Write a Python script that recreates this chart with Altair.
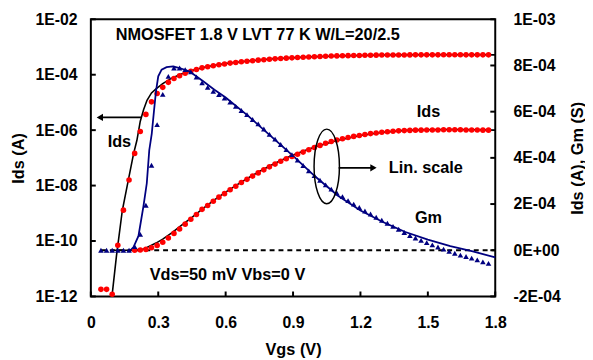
import altair as alt
import pandas as pd

# ---------------- data ----------------
vgs = [round(0.045 + 0.025 * k, 3) for k in range(70)]

ids = [1.8e-12, 1.8e-12, 1.2e-12, 7.0e-11, 1.3e-9, 1.6e-8, 1.45e-7, 9.0e-7, 3.7e-6, 1.05e-5,
       2.1e-5, 3.5e-5, 5.3e-5, 7.3e-5, 9.2e-5, 1.13e-4, 1.34e-4, 1.55e-4, 1.77e-4, 1.94e-4,
       2.12e-4, 2.30e-4, 2.45e-4, 2.62e-4, 2.77e-4, 2.93e-4, 3.07e-4, 3.21e-4, 3.35e-4, 3.48e-4,
       3.61e-4, 3.73e-4, 3.85e-4, 3.96e-4, 4.06e-4, 4.16e-4, 4.25e-4, 4.35e-4, 4.45e-4, 4.54e-4,
       4.63e-4, 4.71e-4, 4.77e-4, 4.83e-4, 4.88e-4, 4.93e-4, 4.97e-4, 5.01e-4, 5.05e-4, 5.08e-4,
       5.11e-4, 5.13e-4, 5.15e-4, 5.17e-4, 5.18e-4, 5.19e-4, 5.20e-4, 5.20e-4, 5.21e-4, 5.21e-4,
       5.21e-4, 5.22e-4, 5.22e-4, 5.22e-4, 5.22e-4, 5.21e-4, 5.21e-4, 5.21e-4, 5.20e-4, 5.20e-4]

gm = [0.0, 0.0, 0.0, 0.0, 0.0, 0.0, 1.6e-5, 6.9e-5, 1.95e-4, 3.68e-4,
      5.44e-4, 6.75e-4, 7.53e-4, 7.89e-4, 7.89e-4, 7.82e-4, 7.72e-4, 7.50e-4, 7.25e-4, 7.05e-4,
      6.88e-4, 6.74e-4, 6.59e-4, 6.41e-4, 6.23e-4, 6.05e-4, 5.87e-4, 5.66e-4, 5.47e-4, 5.25e-4,
      5.02e-4, 4.81e-4, 4.58e-4, 4.36e-4, 4.14e-4, 3.90e-4, 3.67e-4, 3.44e-4, 3.23e-4, 3.03e-4,
      2.83e-4, 2.65e-4, 2.48e-4, 2.32e-4, 2.15e-4, 2.00e-4, 1.85e-4, 1.70e-4, 1.57e-4, 1.43e-4,
      1.30e-4, 1.17e-4, 1.03e-4, 0.91e-4, 0.77e-4, 0.64e-4, 0.53e-4, 0.43e-4, 0.33e-4, 0.23e-4,
      0.14e-4, 0.05e-4, -0.05e-4, -0.13e-4, -0.21e-4, -0.27e-4, -0.34e-4, -0.42e-4, -0.50e-4, -0.57e-4]

ifit_v = [0.094, 0.114, 0.14, 0.167, 0.19, 0.205, 0.22, 0.235, 0.25, 0.27, 0.29, 0.32, 0.36, 0.4,
          0.45, 0.5, 0.55, 0.6, 0.65, 0.7, 0.75, 0.8, 0.85, 0.9, 0.95, 1.0, 1.1, 1.2, 1.3, 1.4,
          1.5, 1.6, 1.7, 1.8]
ifit = [1.0e-12, 2.9e-11, 1.26e-9, 1.6e-8, 1.4e-7, 4.3e-7, 2.1e-6, 5.6e-6, 1.2e-5, 2.2e-5,
        3.1e-5, 4.8e-5, 7.5e-5, 1.05e-4, 1.42e-4, 1.81e-4, 2.18e-4, 2.52e-4, 2.83e-4, 3.13e-4,
        3.41e-4, 3.67e-4, 3.91e-4, 4.12e-4, 4.31e-4, 4.48e-4, 4.76e-4, 4.97e-4, 5.11e-4, 5.19e-4,
        5.22e-4, 5.23e-4, 5.22e-4, 5.20e-4]

gfit_v = [0.176, 0.19, 0.212, 0.234, 0.249, 0.26, 0.271, 0.281, 0.29, 0.3, 0.315, 0.337, 0.366,
          0.395, 0.44, 0.5, 0.55, 0.6, 0.7, 0.8, 0.9, 1.0, 1.1, 1.2, 1.3, 1.4, 1.5, 1.6, 1.7, 1.8]
gfit = [0.0, 0.14e-4, 0.62e-4, 1.90e-4, 2.90e-4, 4.33e-4, 5.04e-4, 6.03e-4, 6.89e-4, 7.53e-4,
        7.82e-4, 7.93e-4, 7.96e-4, 7.89e-4, 7.74e-4, 7.32e-4, 6.95e-4, 6.61e-4, 5.82e-4, 4.95e-4,
        4.09e-4, 3.18e-4, 2.36e-4, 1.72e-4, 1.22e-4, 0.79e-4, 0.46e-4, 0.18e-4, -0.05e-4, -0.31e-4]

x_ticks = [0, 0.3, 0.6, 0.9, 1.2, 1.5, 1.8]
left_ticks = [1e-12, 1e-10, 1e-8, 1e-6, 1e-4, 1e-2]
right_ticks = [-2e-4, 0, 2e-4, 4e-4, 6e-4, 8e-4, 1e-3]
zero_line_v = [0.045, 1.8]

# annotations (data coordinates, right axis)
txt_left = ["NMOSFET 1.8 V LVT 77 K W/L=20/2.5", "Lin. scale", "Vds=50 mV Vbs=0 V"]
txt_left_x = [0.111, 1.326, 0.262]
txt_left_y = [9.30e-4, 3.56e-4, -1.08e-4]
txt_mid = ["Ids", "Ids", "Gm"]
txt_mid_x = [0.127, 1.503, 1.503]
txt_mid_y = [4.67e-4, 5.97e-4, 1.38e-4]
arrow_x1 = [0.037, 1.103]
arrow_x2 = [0.225, 1.262]
arrow_y = [5.75e-4, 3.57e-4]
arrow_head_x = [0.040, 1.258]
arrow_head_shape = ["triangle-left", "triangle-right"]
ellipse_x = [1.05]
ellipse_y = [3.63e-4]

# ---------------- chart ----------------
W, H = 410, 281
FONT = "Liberation Sans"
FS = 16.5


def X():
    return alt.X("V:Q",
                 scale=alt.Scale(domain=[0, 1.8], nice=False, zero=False),
                 axis=alt.Axis(values=x_ticks, title="Vgs (V)",
                               labelExpr="datum.value == 0 ? '0' : format(datum.value, '.1f')",
                               labelFlush=False, labelPadding=18, titlePadding=12))


YL = alt.Y("y:Q",
           scale=alt.Scale(type="log", domain=[1e-12, 1e-2], nice=False),
           axis=alt.Axis(orient="left", values=left_ticks, title="Ids (A)",
                         labelExpr="'1E-' + (abs(round(log(datum.value)/LN10)) < 10 ? '0' : '') + abs(round(log(datum.value)/LN10))",
                         labelPadding=14, titlePadding=9, labelOverlap=False))

YR = alt.Y("y:Q",
           scale=alt.Scale(domain=[-2e-4, 1e-3], nice=False, zero=False),
           axis=alt.Axis(orient="right", values=right_ticks, title="Ids (A), Gm (S)",
                         labelExpr="datum.value == 0 ? '0E+00' : (datum.value < 0 ? '-' : '') + replace(upper(format(abs(datum.value), '.0e')), 'E-', 'E-0')",
                         labelPadding=18, titlePadding=9, titleAngle=270, titleBaseline="top",
                         labelOverlap=False))

meas = pd.DataFrame({"V": vgs, "y": ids, "g": gm})
ids_lin = meas[meas["V"] >= 0.19]
ifit_df = pd.DataFrame({"V": ifit_v, "y": ifit})
gfit_df = pd.DataFrame({"V": gfit_v, "y": gfit})
gm_df = pd.DataFrame({"V": vgs, "y": gm})

# ---- left (log) group ----
log_fit = alt.Chart(ifit_df).mark_line(color="black", strokeWidth=1.6).encode(x=X(), y=YL)
log_pts = alt.Chart(meas).mark_point(filled=True, shape="circle", size=32, color="#FF0000",
                                     opacity=1).encode(x=X(), y=YL)
lt_df = pd.DataFrame({"y": left_ticks})
log_ticks = alt.Chart(lt_df).mark_rule(color="black", strokeWidth=2).encode(
    y=YL, x=alt.value(0), x2=alt.value(5))
left_group = alt.layer(log_fit, log_pts, log_ticks)

# ---- right (linear) group ----
zero_df = pd.DataFrame({"V": zero_line_v, "y": [0.0, 0.0]})
zero_line = alt.Chart(zero_df).mark_line(color="black", strokeWidth=1.8,
                                         strokeDash=[5, 4]).encode(x=X(), y=YR)
lin_fit = alt.Chart(ifit_df).mark_line(color="black", strokeWidth=1.6).encode(x=X(), y=YR)
gm_fit = alt.Chart(gfit_df).mark_line(color="#000080", strokeWidth=1.8).encode(x=X(), y=YR)
lin_pts = alt.Chart(ids_lin).mark_point(filled=True, shape="circle", size=32, color="#FF0000",
                                        opacity=1).encode(x=X(), y=YR)
gm_pts = alt.Chart(gm_df).mark_point(filled=True, shape="triangle-up", size=32, color="#000080",
                                     opacity=1).encode(x=X(), y=YR)

rt_df = pd.DataFrame({"y": right_ticks})
r_ticks = alt.Chart(rt_df).mark_rule(color="black", strokeWidth=2).encode(
    y=YR, x=alt.value(W - 5), x2=alt.value(W))
xt_df = pd.DataFrame({"V": x_ticks})
x_tick_marks = alt.Chart(xt_df).mark_rule(color="black", strokeWidth=2).encode(
    x=X(), y=alt.value(H - 5), y2=alt.value(H))

tl_df = pd.DataFrame({"V": txt_left_x, "y": txt_left_y, "t": txt_left})
tm_df = pd.DataFrame({"V": txt_mid_x, "y": txt_mid_y, "t": txt_mid})
text_left = alt.Chart(tl_df).mark_text(align="left", baseline="middle", font=FONT, fontSize=FS,
                                       fontWeight="bold", color="black").encode(x=X(), y=YR, text="t:N")
text_mid = alt.Chart(tm_df).mark_text(align="center", baseline="middle", font=FONT, fontSize=FS,
                                      fontWeight="bold", color="black").encode(x=X(), y=YR, text="t:N")

ar_df = pd.DataFrame({"V": arrow_x1, "V2": arrow_x2, "y": arrow_y})
arrows = alt.Chart(ar_df).mark_rule(color="black", strokeWidth=1.8).encode(
    x=X(), x2=alt.X2("V2"), y=YR)
ah_df = pd.DataFrame({"V": arrow_head_x, "y": arrow_y, "s": arrow_head_shape})
heads = alt.Chart(ah_df).mark_point(filled=True, size=55, color="black", opacity=1).encode(
    x=X(), y=YR, shape=alt.Shape("s:N", scale=None, legend=None))

ELLIPSE = ("M 0,-1 C 0.1878,-1 0.34,-0.5523 0.34,0 C 0.34,0.5523 0.1878,1 0,1 "
           "C -0.1878,1 -0.34,0.5523 -0.34,0 C -0.34,-0.5523 -0.1878,-1 0,-1 Z")
el_df = pd.DataFrame({"V": ellipse_x, "y": ellipse_y})
ellipse = alt.Chart(el_df).mark_point(shape=ELLIPSE, size=5715, filled=False, color="black",
                                      strokeWidth=1.5, opacity=1).encode(x=X(), y=YR)

right_group = alt.layer(zero_line, lin_fit, gm_fit, lin_pts, gm_pts, r_ticks, x_tick_marks,
                        text_left, text_mid, arrows, heads, ellipse)

chart = alt.layer(left_group, right_group).resolve_scale(y="independent").properties(
    width=W, height=H,
    autosize=alt.AutoSizeParams(type="none"),
    padding={"left": 84, "top": 9, "right": 91, "bottom": 62},
    background="white",
).configure_view(
    stroke="black", strokeWidth=2
).configure_axis(
    domain=False, ticks=False, grid=False,
    labelFont=FONT, labelFontSize=16, labelFontWeight="bold", labelColor="black",
    titleFont=FONT, titleFontSize=FS, titleFontWeight="bold", titleColor="black",
)

chart.save("out.html", embed_options={"renderer": "svg", "actions": False})
